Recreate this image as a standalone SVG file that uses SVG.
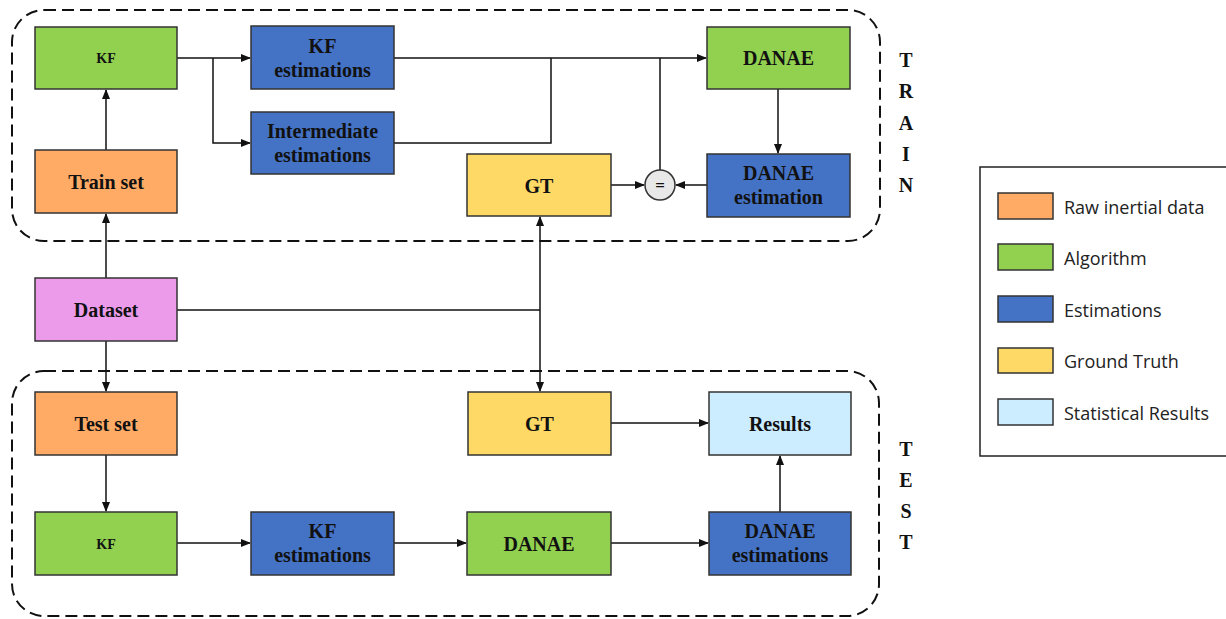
<svg xmlns="http://www.w3.org/2000/svg" width="1226" height="619" viewBox="0 0 1226 619">
<style>
.box{stroke:#333;stroke-width:1.5}
.raw{fill:#FFAB66}.alg{fill:#92D050}.est{fill:#4472C4}.gt{fill:#FFD966}.res{fill:#CCECFF}.ds{fill:#EC9BEA}
.t{font-family:"Liberation Serif",serif;font-weight:bold;font-size:20px;fill:#111;text-anchor:middle}
.ts{font-size:14px}
.side{font-family:"Liberation Serif",serif;font-weight:bold;font-size:20px;fill:#111;text-anchor:middle}
.leg{font-family:"Open Sans","Noto Sans",sans-serif;font-size:18px;fill:#222}
.c{fill:none;stroke:#111;stroke-width:1.5}
.dash{fill:none;stroke:#111;stroke-width:2;stroke-dasharray:12 6}
</style>
<defs>
<marker id="ah" markerWidth="10" markerHeight="8" refX="9" refY="4" orient="auto" markerUnits="userSpaceOnUse">
<path d="M0,0 L10,4 L0,8 Z" fill="#111"/>
</marker>
</defs>
<rect width="1226" height="619" fill="#fff"/>

<g id="frames">
<rect class="dash" x="12" y="10" width="868" height="231" rx="32"/>
<rect class="dash" x="12" y="371" width="867" height="245" rx="32"/>
</g>

<g id="connectors">
<line class="c" x1="106" y1="150" x2="106" y2="90" marker-end="url(#ah)"/>
<line class="c" x1="177" y1="58" x2="250" y2="58" marker-end="url(#ah)"/>
<polyline class="c" points="213,58 213,143 250,143" marker-end="url(#ah)"/>
<line class="c" x1="394" y1="58" x2="706" y2="58" marker-end="url(#ah)"/>
<polyline class="c" points="394,143 551,143 551,58"/>
<line class="c" x1="660" y1="170" x2="660" y2="58"/>
<line class="c" x1="778" y1="89" x2="778" y2="153" marker-end="url(#ah)"/>
<line class="c" x1="611" y1="185" x2="644" y2="185" marker-end="url(#ah)"/>
<line class="c" x1="707" y1="185" x2="676" y2="185" marker-end="url(#ah)"/>
<line class="c" x1="106" y1="278" x2="106" y2="214" marker-end="url(#ah)"/>
<line class="c" x1="106" y1="341" x2="106" y2="391" marker-end="url(#ah)"/>
<polyline class="c" points="177,310 540,310"/>
<line class="c" x1="540" y1="310" x2="540" y2="217" marker-end="url(#ah)"/>
<line class="c" x1="540" y1="310" x2="540" y2="391" marker-end="url(#ah)"/>
<line class="c" x1="106" y1="455" x2="106" y2="511" marker-end="url(#ah)"/>
<line class="c" x1="177" y1="543" x2="250" y2="543" marker-end="url(#ah)"/>
<line class="c" x1="394" y1="543" x2="466" y2="543" marker-end="url(#ah)"/>
<line class="c" x1="611" y1="543" x2="708" y2="543" marker-end="url(#ah)"/>
<line class="c" x1="780" y1="512" x2="780" y2="456" marker-end="url(#ah)"/>
<line class="c" x1="611" y1="423" x2="708" y2="423" marker-end="url(#ah)"/>
</g>

<g id="kf-train"><rect class="box alg" x="35" y="27" width="142" height="62"/><text class="t ts" x="106" y="63">KF</text></g>
<g id="trainset"><rect class="box raw" x="35" y="150" width="142" height="63"/><text class="t" x="106" y="189">Train set</text></g>
<g id="kfest-train"><rect class="box est" x="251" y="26" width="143" height="63"/><text class="t" x="322.5" y="53">KF</text><text class="t" x="322.5" y="77">estimations</text></g>
<g id="inter"><rect class="box est" x="251" y="112" width="143" height="62"/><text class="t" x="322.5" y="138">Intermediate</text><text class="t" x="322.5" y="162">estimations</text></g>
<g id="danae-train"><rect class="box alg" x="707" y="27" width="143" height="62"/><text class="t" x="778.5" y="65">DANAE</text></g>
<g id="danaeest-train"><rect class="box est" x="707" y="154" width="143" height="63"/><text class="t" x="778.5" y="180">DANAE</text><text class="t" x="778.5" y="204">estimation</text></g>
<g id="gt-train"><rect class="box gt" x="467" y="154" width="144" height="62"/><text class="t" x="539" y="193">GT</text></g>
<g id="eq"><circle cx="660" cy="185" r="15" fill="#E8E8E8" stroke="#333" stroke-width="1.5"/><text class="t" x="660" y="191" style="font-size:17px">=</text></g>

<g id="dataset"><rect class="box ds" x="35" y="278" width="142" height="63"/><text class="t" x="106" y="317">Dataset</text></g>

<g id="testset"><rect class="box raw" x="35" y="392" width="142" height="63"/><text class="t" x="106" y="431">Test set</text></g>
<g id="gt-test"><rect class="box gt" x="468" y="392" width="143" height="63"/><text class="t" x="539.5" y="431">GT</text></g>
<g id="results"><rect class="box res" x="709" y="392" width="142" height="63"/><text class="t" x="780" y="431">Results</text></g>
<g id="kf-test"><rect class="box alg" x="35" y="512" width="142" height="63"/><text class="t ts" x="106" y="549">KF</text></g>
<g id="kfest-test"><rect class="box est" x="251" y="512" width="143" height="63"/><text class="t" x="322.5" y="538">KF</text><text class="t" x="322.5" y="562">estimations</text></g>
<g id="danae-test"><rect class="box alg" x="467" y="512" width="144" height="63"/><text class="t" x="539" y="551">DANAE</text></g>
<g id="danaeest-test"><rect class="box est" x="709" y="512" width="142" height="63"/><text class="t" x="780" y="538">DANAE</text><text class="t" x="780" y="562">estimations</text></g>

<g id="labels">
<text class="side" x="906" y="67">T</text>
<text class="side" x="906" y="98">R</text>
<text class="side" x="906" y="130">A</text>
<text class="side" x="906" y="161">I</text>
<text class="side" x="906" y="192">N</text>
<text class="side" x="906" y="456">T</text>
<text class="side" x="906" y="487">E</text>
<text class="side" x="906" y="518">S</text>
<text class="side" x="906" y="549">T</text>
</g>

<g id="legend">
<rect x="980" y="167" width="260" height="289" fill="#fff" stroke="#222" stroke-width="1.5"/>
<rect class="box raw" x="998" y="193" width="55" height="26"/><text class="leg" x="1064" y="214">Raw inertial data</text>
<rect class="box alg" x="998" y="244" width="55" height="26"/><text class="leg" x="1064" y="265">Algorithm</text>
<rect class="box est" x="998" y="296" width="55" height="26"/><text class="leg" x="1064" y="317">Estimations</text>
<rect class="box gt" x="998" y="348" width="55" height="25"/><text class="leg" x="1064" y="368">Ground Truth</text>
<rect class="box res" x="998" y="399" width="55" height="26"/><text class="leg" x="1064" y="420">Statistical Results</text>
</g>
</svg>
